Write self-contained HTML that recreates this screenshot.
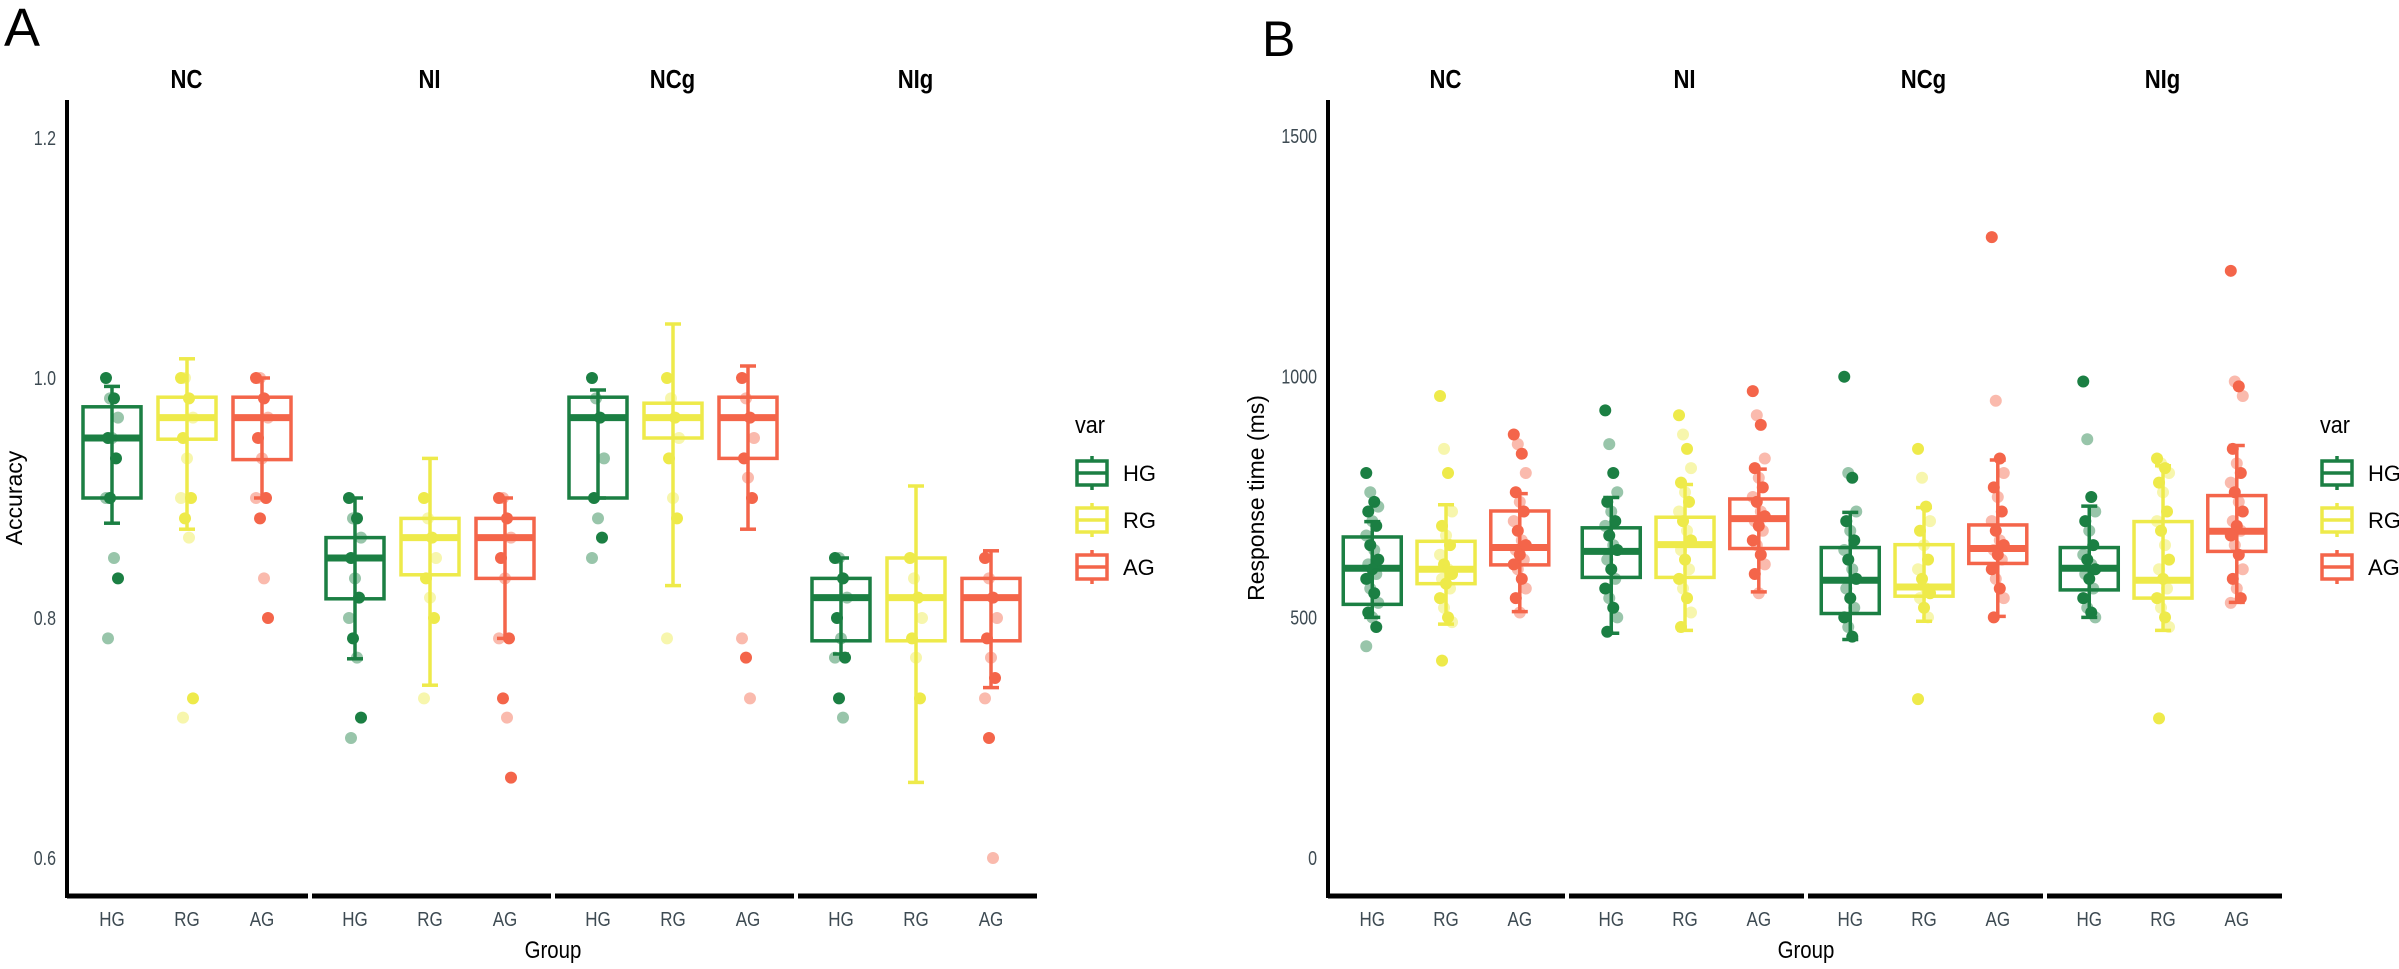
<!DOCTYPE html>
<html><head><meta charset="utf-8"><style>
html,body{margin:0;padding:0;background:#fff;}
svg{display:block;font-family:"Liberation Sans",sans-serif;}
</style></head><body>
<svg id="chart" width="2399" height="969" viewBox="0 0 2399 969" xmlns="http://www.w3.org/2000/svg">
<text x="4" y="46" font-size="54">A</text>
<text x="1262" y="56" font-size="50">B</text>
<g id="pa"></g>
<g id="pb"></g>
</svg>
<script>
const facets = ["NC","NI","NCg","NIg"];
const groups = ["HG","RG","AG"];
const colors = ["#1b7f43","#eeea4a","#f4654a"];
// Panel A box stats per facet per group: [lowerWhisker, q1, median, q3, upperWhisker]
const accStats = [
 [[0.879,0.90,0.95,0.976,0.993],[0.874,0.949,0.967,0.984,1.016],[0.90,0.932,0.967,0.984,1.0]],
 [[0.766,0.816,0.85,0.867,0.90],[0.744,0.836,0.867,0.883,0.933],[0.783,0.833,0.867,0.883,0.90]],
 [[0.90,0.90,0.967,0.984,0.99],[0.827,0.95,0.967,0.979,1.045],[0.874,0.933,0.967,0.984,1.01]],
 [[0.77,0.781,0.817,0.833,0.85],[0.663,0.781,0.817,0.85,0.91],[0.742,0.781,0.817,0.833,0.856]]
];
const accPoints = [
 [[1.0,0.983,0.983,0.967,0.95,0.95,0.933,0.9,0.9,0.85,0.833,0.783],[1.0,1.0,0.983,0.967,0.95,0.933,0.9,0.9,0.883,0.867,0.733,0.717],[1.0,1.0,0.983,0.967,0.95,0.933,0.9,0.9,0.883,0.833,0.8]],
 [[0.9,0.883,0.883,0.867,0.85,0.833,0.817,0.8,0.783,0.767,0.717,0.7],[0.9,0.883,0.867,0.85,0.833,0.817,0.8,0.733],[0.9,0.9,0.883,0.867,0.85,0.833,0.783,0.783,0.733,0.717,0.667]],
 [[1.0,0.983,0.967,0.933,0.9,0.883,0.867,0.85],[1.0,0.983,0.967,0.95,0.933,0.9,0.883,0.783],[1.0,0.983,0.967,0.95,0.933,0.917,0.9,0.783,0.767,0.733]],
 [[0.85,0.85,0.833,0.817,0.8,0.783,0.767,0.767,0.733,0.717],[0.85,0.833,0.817,0.8,0.783,0.767,0.733],[0.85,0.833,0.817,0.8,0.783,0.767,0.75,0.733,0.7,0.6]]
];
const accTicks = [0.6,0.8,1.0,1.2];
const accTickLabels = ["0.6","0.8","1.0","1.2"];
const rtStats = [
 [[500,527,602,667,699],[486,570,600,658,734],[512,609,645,721,757]],
 [[467,583,637,686,749],[473,583,651,708,776],[553,643,705,746,808]],
 [[454,508,577,645,718],[492,544,563,651,728],[502,612,643,692,827]],
 [[500,557,602,645,731],[473,540,577,699,815],[531,637,679,753,857]]
];
const rtPoints = [
 [[800,760,740,730,720,700,690,670,650,640,620,610,600,590,580,560,550,530,510,500,480,440],[960,850,800,720,690,670,650,630,610,600,590,580,570,560,540,520,500,490,410],[880,860,840,800,760,740,720,700,680,660,650,640,630,620,610,600,580,560,540,510]],
 [[930,860,800,760,740,720,700,690,670,650,640,620,600,580,560,540,520,500,470],[920,880,850,810,780,760,740,720,700,680,660,640,620,600,580,560,540,510,480],[970,920,900,830,810,790,770,750,740,720,710,700,690,680,660,650,630,610,590,550]],
 [[1000,800,790,720,700,680,660,640,620,600,580,560,540,520,500,480,460],[850,790,730,700,680,650,620,600,580,560,550,540,520,500,330],[1290,950,830,800,770,750,720,700,680,660,650,640,630,620,600,580,560,540,500]],
 [[990,870,750,720,700,680,650,630,620,610,600,590,580,560,540,520,510,500],[830,820,810,800,780,760,720,700,680,650,620,600,580,560,540,520,500,480,290],[1220,990,980,960,850,820,800,780,760,740,720,700,690,680,670,650,630,600,580,560,540,530]]
];
const rtTicks = [0,500,1000,1500];
const rtTickLabels = ["0","500","1000","1500"];

const NS="http://www.w3.org/2000/svg";
function mk(parent,tag,attrs,text){const e=document.createElementNS(NS,tag);for(const k in attrs)e.setAttribute(k,attrs[k]);if(text!==undefined)e.textContent=text;parent.appendChild(e);return e;}

function panel(gid,cfg,stats,points,ticks,tickLabels){
 const g=document.getElementById(gid);
 const x0=cfg.x0, fw=cfg.fw, yS=cfg.y;
 const xPos=(f,k)=>x0+f*fw+(45+75*k)*fw/243;
 const ya=mk(g,'line',{x1:x0,y1:100,x2:x0,y2:898,stroke:'#000','stroke-width':4});
 
 
 ticks.forEach((t,i)=>{
  const tl=mk(g,'text',{x:x0-11,y:yS(t)+7,'text-anchor':'end','font-size':20,fill:'#3d4a52',transform:`translate(${x0-11},${yS(t)}) scale(0.8,1) translate(${-(x0-11)},${-yS(t)})`},tickLabels[i]);
  
  
 });
 const yt=mk(g,'text',{x:0,y:0,'text-anchor':'middle','font-size':23,transform:`translate(${cfg.ytx},498) rotate(-90)`},cfg.ytitle);
 
 
 facets.forEach((fn,f)=>{
  const seg=mk(g,'line',{x1:x0+f*fw+(f?2:0),y1:896,x2:x0+(f+1)*fw-2,y2:896,stroke:'#000','stroke-width':5});
  
  
  const ft=mk(g,'text',{x:x0+f*fw+fw/2-2,y:88,'text-anchor':'middle','font-size':26,'font-weight':'bold',transform:`translate(${x0+f*fw+fw/2-2},0) scale(0.85,1) translate(${-(x0+f*fw+fw/2-2)},0)`},fn);
  
  
  groups.forEach((gn,k)=>{
   const cx=xPos(f,k), c=colors[k], s=stats[f][k], w=29;
   const lab=mk(g,'text',{x:cx,y:926,'text-anchor':'middle','font-size':20,fill:'#3d4a52',transform:`translate(${cx},0) scale(0.85,1) translate(${-cx},0)`},gn);
   
   
   const bg=mk(g,'g',{});
   
   
   mk(bg,'line',{x1:cx,y1:yS(s[0]),x2:cx,y2:yS(s[4]),stroke:c,'stroke-width':3.5});
   mk(bg,'line',{x1:cx-8,y1:yS(s[0]),x2:cx+8,y2:yS(s[0]),stroke:c,'stroke-width':3.5});
   mk(bg,'line',{x1:cx-8,y1:yS(s[4]),x2:cx+8,y2:yS(s[4]),stroke:c,'stroke-width':3.5});
   mk(bg,'rect',{x:cx-w,y:yS(s[3]),width:2*w,height:Math.max(1,yS(s[1])-yS(s[3])),fill:'none',stroke:c,'stroke-width':3.5});
   mk(bg,'line',{x1:cx-w,y1:yS(s[2]),x2:cx+w,y2:yS(s[2]),stroke:c,'stroke-width':7});
   points[f][k].forEach((v,i)=>{
    const j=((i*37)%7-3)*2;
    const p=mk(bg,'circle',{cx:cx+j,cy:yS(v),r:6,fill:c,'fill-opacity':(i%2?0.45:1)});
    
    
   });
  });
 });
 const xt=mk(g,'text',{x:x0+2*fw,y:958,'text-anchor':'middle','font-size':24,transform:`translate(${x0+2*fw},0) scale(0.85,1) translate(${-(x0+2*fw)},0)`},'Group');
 
 
 const lg=mk(g,'g',{});
 
 
 mk(lg,'text',{x:cfg.lx-17,y:cfg.ly-40,'font-size':24,transform:`translate(${cfg.lx-17},0) scale(0.9,1) translate(${-(cfg.lx-17)},0)`},'var');
 groups.forEach((gn,k)=>{
  const cy=cfg.ly+k*47, c=colors[k];
  const e=mk(lg,'g',{});
  
  
  mk(e,'line',{x1:cfg.lx,y1:cy-17,x2:cfg.lx,y2:cy+17,stroke:c,'stroke-width':3.5});
  mk(e,'rect',{x:cfg.lx-15,y:cy-12,width:30,height:24,fill:'#fff',stroke:c,'stroke-width':3.5});
  mk(e,'line',{x1:cfg.lx-15,y1:cy,x2:cfg.lx+15,y2:cy,stroke:c,'stroke-width':3.5});
  mk(e,'text',{x:cfg.lx+31,y:cy+8,'font-size':22},gn);
 });
}
panel('pa',{x0:67,fw:243,y:v=>378-(v-1)*1200,ytx:22,ytitle:'Accuracy',lx:1092,ly:473},accStats,accPoints,accTicks,accTickLabels);
panel('pb',{x0:1328,fw:239,y:v=>858-v*0.4813,ytx:1264,ytitle:'Response time (ms)',lx:2337,ly:473},rtStats,rtPoints,rtTicks,rtTickLabels);
</script>
</body></html>
